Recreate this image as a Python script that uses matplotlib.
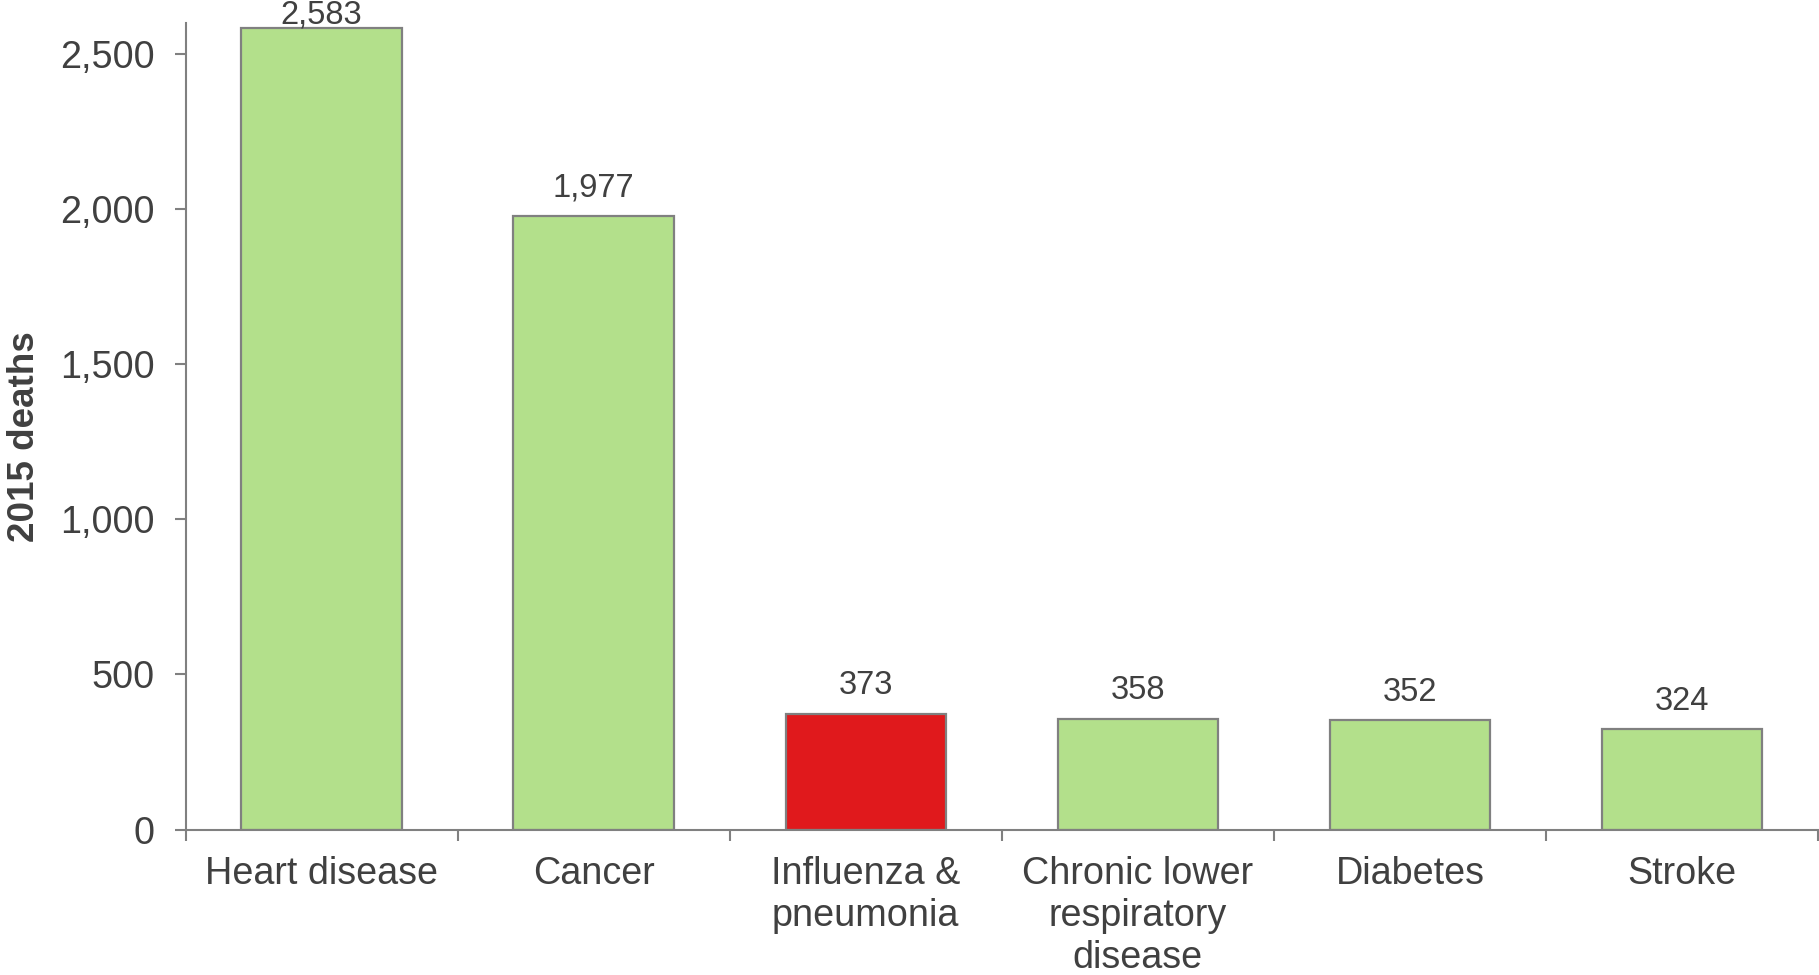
import numpy as np
import matplotlib
matplotlib.use("Agg")
import matplotlib.pyplot as plt
from matplotlib.ticker import FuncFormatter

plt.rcParams['font.family'] = ['Liberation Sans', 'DejaVu Sans']

# data
causes = ['Heart disease', 'Cancer', 'Influenza &\npneumonia',
          'Chronic lower\nrespiratory\ndisease', 'Diabetes', 'Stroke']
deaths = [2583, 1977, 373, 358, 352, 324]
highlight = 'Influenza &\npneumonia'
yticks = [0, 500, 1000, 1500, 2000, 2500]

green = '#b3e08b'
red = '#e0191c'
edge = '#808080'
txt = '#404040'

fig = plt.figure(figsize=(18.19, 9.75), dpi=100)
ax = fig.add_axes([0.102, 0.1492, 0.8975, 0.8270])

x = np.arange(len(causes))
colors = [red if c == highlight else green for c in causes]
ax.bar(x, deaths, width=0.59, color=colors, edgecolor=edge, linewidth=1.6, zorder=2)

for xi, v in zip(x, deaths):
    # tallest label is squeezed under the top edge
    off = 9 if v < 2400 else -1.5
    ax.annotate(f'{v:,}', (xi, v), xytext=(0, off), textcoords='offset points',
                ha='center', va='bottom', fontsize=23.5, color=txt, annotation_clip=False)

ax.set_xlim(-0.5, len(causes) - 0.5)
ax.set_ylim(0, 2600)
ax.set_yticks(yticks)
ax.yaxis.set_major_formatter(FuncFormatter(lambda v, p: f'{int(v):,}'))
ax.set_xticks(x)
ax.set_xticklabels(causes, linespacing=1.22)
ax.set_xticks(np.arange(len(causes) + 1) - 0.5, minor=True)

ax.tick_params(axis='x', which='major', length=0, pad=19, labelsize=27.2, labelcolor=txt)
ax.tick_params(axis='x', which='minor', length=8, width=1.5, color=edge, direction='out')
ax.tick_params(axis='y', length=8, width=1.5, color=edge, pad=14, labelsize=27.2, labelcolor=txt)

for s in ['top', 'right']:
    ax.spines[s].set_visible(False)
for s in ['left', 'bottom']:
    ax.spines[s].set_color(edge)
    ax.spines[s].set_linewidth(1.5)

fig.text(25 / 1819, 0.552, '2015 deaths', rotation=90, ha='center', va='center',
         fontsize=26.5, fontweight='bold', color=txt)

fig.savefig('out.png', dpi=100)
